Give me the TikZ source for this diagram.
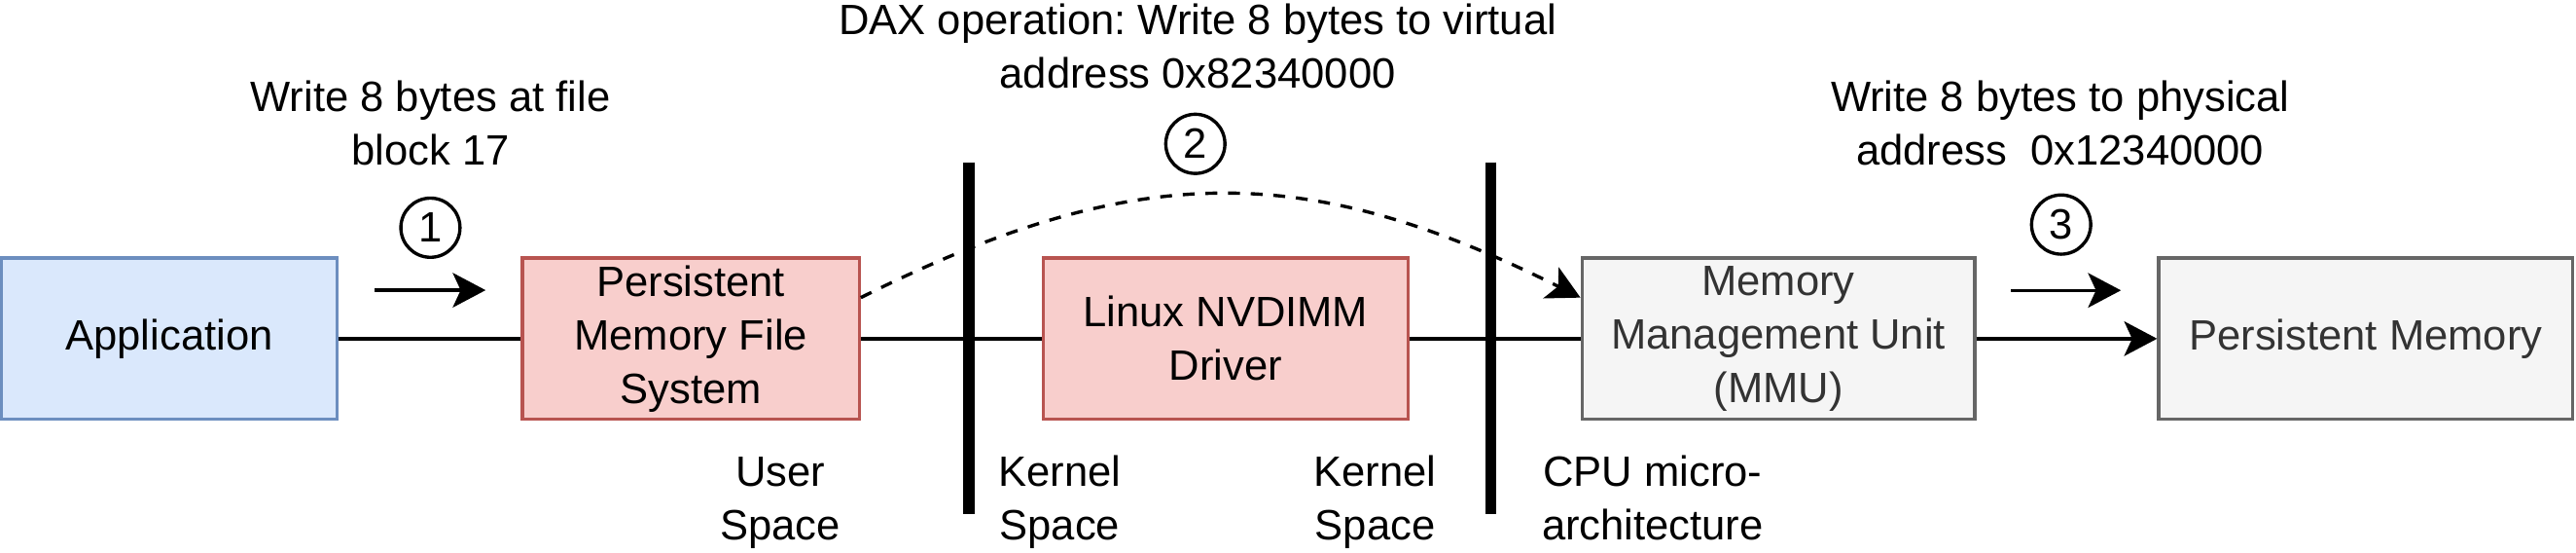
\documentclass[tikz,border=0pt]{standalone}
\usepackage{fontspec}
\setmainfont{Liberation Sans}
\usetikzlibrary{arrows.meta}
\frenchspacing
\definecolor{appfill}{HTML}{DAE8FC}
\definecolor{appline}{HTML}{6C8EBF}
\definecolor{redfill}{HTML}{F8CECC}
\definecolor{redline}{HTML}{B85450}
\definecolor{grayfill}{HTML}{F5F5F5}
\definecolor{grayline}{HTML}{666666}
\definecolor{graytext}{HTML}{333333}
\tikzset{every picture/.style={line width=1pt, font=\fontsize{12.9}{16.3}\selectfont}}
\tikzset{
    blk/.style={draw, rectangle, minimum height=49pt, inner sep=2pt, align=center},
    appbox/.style={blk, draw=appline, fill=appfill},
    redbox/.style={blk, draw=redline, fill=redfill},
    graybox/.style={blk, draw=grayline, fill=grayfill, text=graytext},
    num/.style={draw, circle, minimum size=18pt, inner sep=0pt},
    lbl/.style={align=center, inner sep=0pt},
    bar/.style={line width=3.5pt},
    arr/.style={-{Stealth[length=10pt, width=10.5pt, inset=2.4pt]}}
}

\begin{document}
\begin{tikzpicture}[x=10pt, y=10pt]
    	\useasboundingbox (0, 0) rectangle (78.4, 16.8);
    	\node[appbox, minimum width=102pt](App) at (5.15, 6.5){Application};
    	\node[redbox, minimum width=102.5pt](FS) at (21.025, 6.5){Persistent\\Memory File\\System};
    	\node[redbox, minimum width=111pt](Drv) at (37.3, 6.5){Linux NVDIMM\\Driver};
    	\node[graybox, minimum width=119.5pt](MMU) at (54.125, 6.5){Memory\\Management Unit\\(MMU)};
    	\node[graybox, minimum width=126pt](PM) at (72, 6.5){Persistent Memory};
    	\node[num](N1) at (13.1, 9.875){1};
    	\node[num](N2) at (36.38, 12.425){2};
    	\node[num](N3) at (62.73, 9.97){3};
    	\node[lbl](L1) at (13.1, 13.05){Write 8 bytes at file\\block 17};
    	\node[lbl](L2) at (36.45, 15.4){DAX operation: Write 8 bytes to virtual\\address 0x82340000};
    	\node[lbl](L3) at (62.7, 13.05){Write 8 bytes to physical\\address~~0x12340000};
    	\node[lbl](L4) at (23.75, 1.51){User\\Space};
    	\node[lbl](L5) at (32.25, 1.52){Kernel\\Space};
    	\node[lbl](L6) at (41.85, 1.52){Kernel\\Space};
    	\node[lbl](L7) at (50.3, 1.655){CPU micro-\\architecture};
    	\coordinate (A1s) at (11.4, 7.975);
    	\coordinate (A1e) at (14.78, 7.975);
    	\coordinate (A3s) at (61.2, 7.97);
    	\coordinate (A3e) at (64.55, 7.97);
    	\coordinate (B1t) at (29.5, 11.87);
    	\coordinate (B1b) at (29.5, 1.165);
    	\coordinate (B2t) at (45.375, 11.87);
    	\coordinate (B2b) at (45.375, 1.165);
    	\draw (App) -- (FS);
    	\draw (FS) -- (Drv);
    	\draw (Drv) -- (MMU);
    	\draw[arr] (MMU) -- (PM);
    	\draw[arr] (A1s) -- (A1e);
    	\draw[arr] (A3s) -- (A3e);
    	\draw[arr, dash pattern=on 3.6pt off 3.3pt] ([yshift=12.5pt]FS.east) to[out=26.6, in=153.4, distance=93.4pt] ([yshift=12.5pt]MMU.west);
    	\draw[bar] (B1t) -- (B1b);
    	\draw[bar] (B2t) -- (B2b);
    \end{tikzpicture}
\end{document}
